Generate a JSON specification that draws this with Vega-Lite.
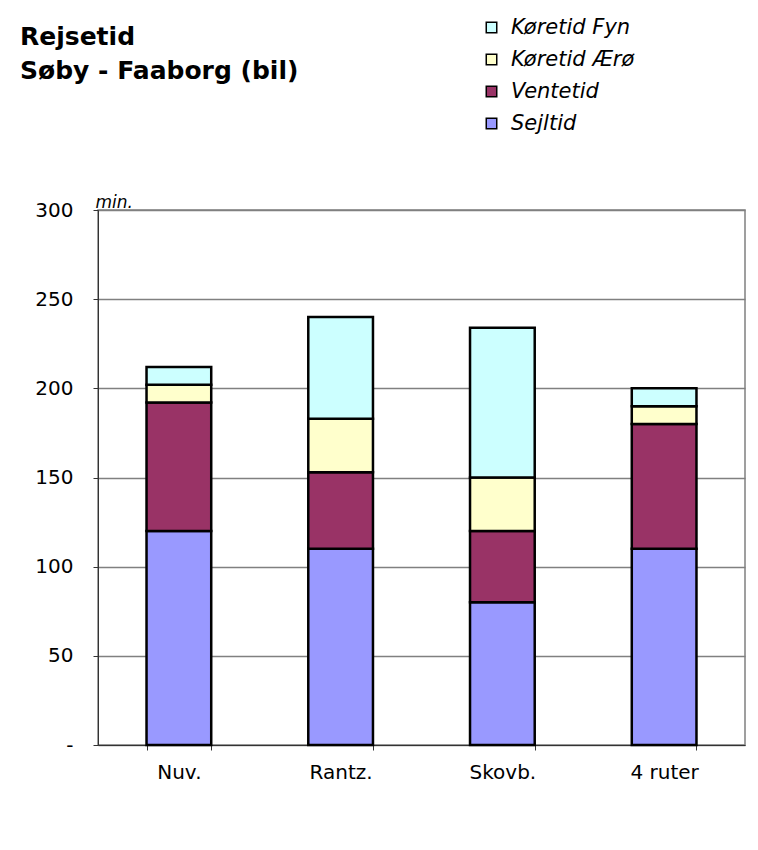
{
  "$schema": "https://vega.github.io/schema/vega-lite/v6.json",
  "width": 647,
  "height": 535,
  "autosize": {"type": "none"},
  "padding": {"left": 98, "top": 210, "right": 13, "bottom": 105},
  "background": "white",
  "title": {
    "text": ["Rejsetid", "Søby - Faaborg (bil)"],
    "anchor": "start",
    "frame": "group",
    "font": "DejaVu Sans",
    "fontSize": 25,
    "fontWeight": "bold",
    "color": "black",
    "lineHeight": 34,
    "dx": -78,
    "dy": 71
  },
  "data": {
    "values": [
      {"rute": "Nuv.", "del": "Sejltid", "k": 1, "min": 120},
      {"rute": "Nuv.", "del": "Ventetid", "k": 2, "min": 72},
      {"rute": "Nuv.", "del": "Køretid Ærø", "k": 3, "min": 10},
      {"rute": "Nuv.", "del": "Køretid Fyn", "k": 4, "min": 10},
      {"rute": "Rantz.", "del": "Sejltid", "k": 1, "min": 110},
      {"rute": "Rantz.", "del": "Ventetid", "k": 2, "min": 43},
      {"rute": "Rantz.", "del": "Køretid Ærø", "k": 3, "min": 30},
      {"rute": "Rantz.", "del": "Køretid Fyn", "k": 4, "min": 57},
      {"rute": "Skovb.", "del": "Sejltid", "k": 1, "min": 80},
      {"rute": "Skovb.", "del": "Ventetid", "k": 2, "min": 40},
      {"rute": "Skovb.", "del": "Køretid Ærø", "k": 3, "min": 30},
      {"rute": "Skovb.", "del": "Køretid Fyn", "k": 4, "min": 84},
      {"rute": "4 ruter", "del": "Sejltid", "k": 1, "min": 110},
      {"rute": "4 ruter", "del": "Ventetid", "k": 2, "min": 70},
      {"rute": "4 ruter", "del": "Køretid Ærø", "k": 3, "min": 10},
      {"rute": "4 ruter", "del": "Køretid Fyn", "k": 4, "min": 10}
    ]
  },
  "mark": {"type": "bar", "stroke": "black", "strokeWidth": 2.5},
  "encoding": {
    "x": {
      "field": "rute",
      "type": "nominal",
      "sort": ["Nuv.", "Rantz.", "Skovb.", "4 ruter"],
      "scale": {"paddingInner": 0.6, "paddingOuter": 0.3},
      "axis": {
        "title": null,
        "labelAngle": 0,
        "labelFont": "DejaVu Sans",
        "labelFontSize": 20,
        "labelColor": "black",
        "labelPadding": 12,
        "tickBand": "extent",
        "tickSize": 5,
        "tickColor": "#333333",
        "domainColor": "#333333",
        "grid": false
      }
    },
    "y": {
      "field": "min",
      "type": "quantitative",
      "aggregate": "sum",
      "stack": "zero",
      "scale": {"domain": [0, 300], "nice": false},
      "axis": {
        "title": "min.",
        "titleAngle": 0,
        "titleAlign": "left",
        "titleBaseline": "alphabetic",
        "titleX": -3,
        "titleY": -3,
        "titleFont": "DejaVu Sans",
        "titleFontSize": 17,
        "titleFontStyle": "italic",
        "titleFontWeight": "normal",
        "titleColor": "black",
        "values": [0, 50, 100, 150, 200, 250, 300],
        "labelExpr": "datum.value == 0 ? '-' : datum.label",
        "labelFont": "DejaVu Sans",
        "labelFontSize": 20,
        "labelColor": "black",
        "labelPadding": 20,
        "tickSize": 5,
        "tickColor": "#333333",
        "domainColor": "#333333",
        "grid": true,
        "gridColor": "#808080",
        "gridWidth": 1.5
      }
    },
    "color": {
      "field": "del",
      "type": "nominal",
      "scale": {
        "domain": ["Køretid Fyn", "Køretid Ærø", "Ventetid", "Sejltid"],
        "range": ["#CCFFFF", "#FFFFCC", "#993366", "#9999FF"]
      },
      "legend": {
        "title": null,
        "orient": "none",
        "legendX": 383,
        "legendY": -193,
        "padding": 0,
        "symbolType": "square",
        "symbolSize": 110,
        "symbolStrokeColor": "black",
        "symbolStrokeWidth": 1.5,
        "labelFont": "DejaVu Sans",
        "labelFontSize": 21,
        "labelFontStyle": "italic",
        "labelColor": "black",
        "labelOffset": 9,
        "rowPadding": 10
      }
    },
    "order": {"field": "k", "type": "quantitative"}
  },
  "config": {
    "view": {"stroke": "#808080", "strokeWidth": 1.5}
  }
}
